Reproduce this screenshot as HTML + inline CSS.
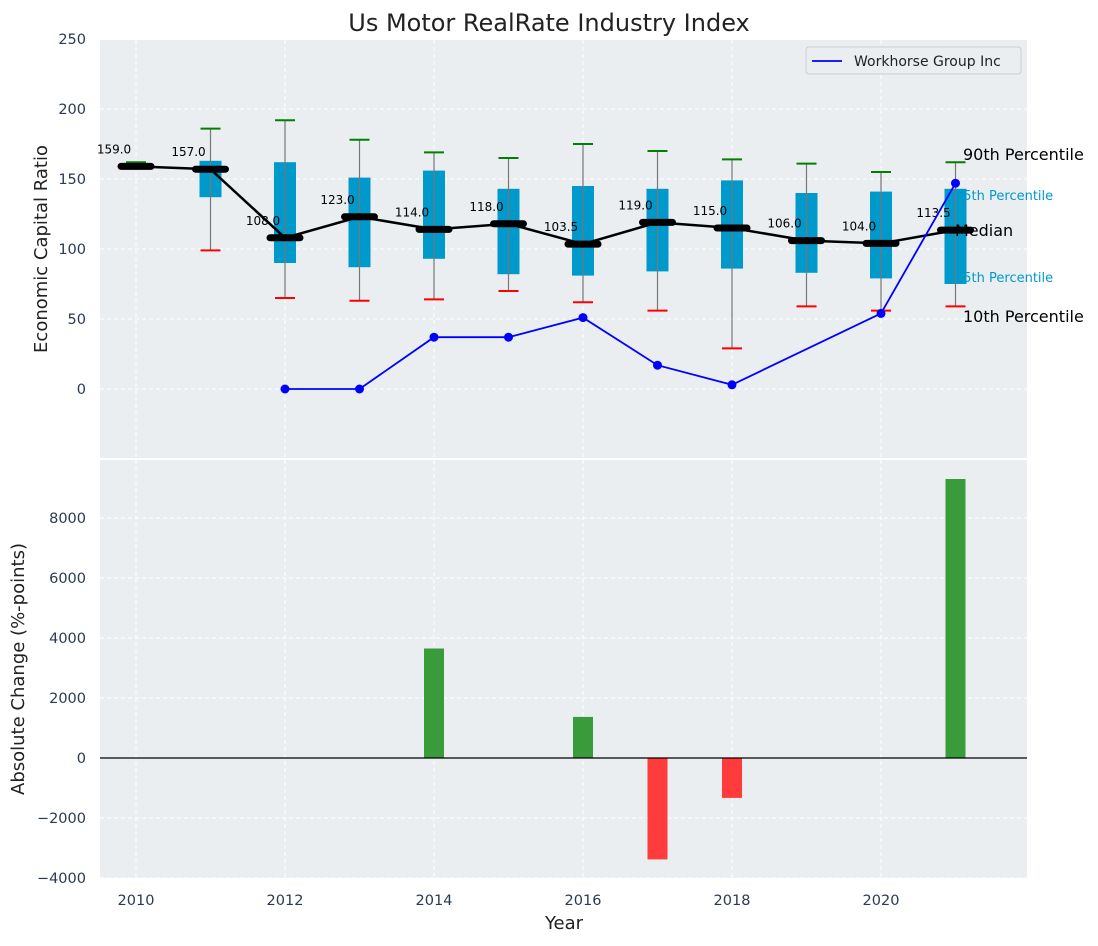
<!DOCTYPE html>
<html><head><meta charset="utf-8"><style>
body{margin:0;background:#fff;font-family:"DejaVu Sans","Liberation Sans",sans-serif}
</style></head><body>
<svg id="c" width="1098" height="942" xmlns="http://www.w3.org/2000/svg" font-family="DejaVu Sans, Liberation Sans, sans-serif"></svg>
<script>
const years=[2010,2011,2012,2013,2014,2015,2016,2017,2018,2019,2020,2021];
const p10=[159,99,65,63,64,70,62,56,29,59,56,59];
const p25=[159,137,90,87,93,82,81,84,86,83,79,75];
const medians=[159,157,108,123,114,118,103.5,119,115,106,104,113.5];
const p75=[159,163,162,151,156,143,145,143,149,140,141,143];
const p90=[162,186,192,178,169,165,175,170,164,161,155,162];
const wkYears=[2012,2013,2014,2015,2016,2017,2018,2020,2021];
const wkValues=[0,0,37,37,51,17,3,54,147];
const chYears=[2014,2016,2017,2018,2021];
const chValues=[3650,1370,-3380,-1330,9300];
const yTicksTop=[0,50,100,150,200,250];
const yTicksBot=[-4000,-2000,0,2000,4000,6000,8000];
const xTicks=[2010,2012,2014,2016,2018,2020];

const svg=document.getElementById('c');const NS='http://www.w3.org/2000/svg';
function el(t,a,txt){const e=document.createElementNS(NS,t);for(const k in a)e.setAttribute(k,a[k]);if(txt!==undefined)e.textContent=txt;svg.appendChild(e);return e;}
const L=100,R=1027;
const X=y=>136+(y-2010)*74.5;
const YT=v=>389-v*1.4;
const YB=v=>758-v*0.03;
let e=el('rect',{x:L,y:40,width:R-L,height:418,fill:'#eaeef0'});

e=el('rect',{x:L,y:460,width:R-L,height:418,fill:'#eaeef0'});

xTicks.forEach(t=>{el('line',{x1:X(t),x2:X(t),y1:40,y2:458,stroke:'#fff','stroke-dasharray':'4,3'});el('line',{x1:X(t),x2:X(t),y1:460,y2:878,stroke:'#fff','stroke-dasharray':'4,3'});
e=el('text',{x:X(t),y:905,'text-anchor':'middle','font-size':14.5,fill:'#2a3b4f'},t);});
yTicksTop.forEach(t=>{el('line',{x1:L,x2:R,y1:YT(t),y2:YT(t),stroke:'#fff','stroke-dasharray':'4,3'});
e=el('text',{x:86,y:YT(t)+5,'text-anchor':'end','font-size':14.5,fill:'#2a3b4f'},t);});
yTicksBot.forEach(t=>{el('line',{x1:L,x2:R,y1:YB(t),y2:YB(t),stroke:'#fff','stroke-dasharray':'4,3'});
e=el('text',{x:86,y:YB(t)+5,'text-anchor':'end','font-size':14.5,fill:'#2a3b4f'},(t<0?'\u2212'+(-t):t));});
[['75th Percentile',200],['25th Percentile',282]].forEach(a=>{e=el('text',{x:955,y:a[1],'font-size':13,fill:'#0099cc'},a[0]);});
years.forEach((y,i)=>{const x=X(y);
 if(p75[i]>p25[i]){e=el('rect',{x:x-11,y:YT(p75[i]),width:22,height:YT(p25[i])-YT(p75[i]),fill:'#0099cc'});}
 el('line',{x1:x,x2:x,y1:YT(p90[i]),y2:YT(p10[i]),stroke:'#777','stroke-width':1.2});
 e=el('line',{x1:x-10,x2:x+10,y1:YT(p90[i]),y2:YT(p90[i]),stroke:'green','stroke-width':2});
 e=el('line',{x1:x-10,x2:x+10,y1:YT(p10[i]),y2:YT(p10[i]),stroke:'red','stroke-width':2});
});
e=el('polyline',{points:years.map((y,i)=>X(y)+','+YT(medians[i])).join(' '),fill:'none',stroke:'#000','stroke-width':2.5});
years.forEach((y,i)=>{const x=X(y);
 e=el('line',{x1:x-15,x2:x+15,y1:YT(medians[i]),y2:YT(medians[i]),stroke:'#000','stroke-width':7,'stroke-linecap':'round'});
 e=el('text',{x:x-22,y:YT(medians[i])-13,'text-anchor':'middle','font-size':12,fill:'#000'},medians[i].toFixed(1));
});
e=el('polyline',{points:wkYears.map((y,i)=>X(y)+','+YT(wkValues[i])).join(' '),fill:'none',stroke:'blue','stroke-width':1.8});
wkYears.forEach((y,i)=>{e=el('circle',{cx:X(y),cy:YT(wkValues[i]),r:4.5,fill:'blue'});});
[['90th Percentile',155,963],['Median',231,955],['10th Percentile',317,963]].forEach(a=>{e=el('text',{x:a[2],y:a[1]+5,'font-size':16,fill:'#000'},a[0]);});
e=el('rect',{x:806,y:47,width:215,height:27,fill:'#eaeef0',stroke:'#ccc',rx:3});
el('line',{x1:812,x2:842,y1:61,y2:61,stroke:'blue','stroke-width':1.8});
e=el('text',{x:854,y:66,'font-size':14,fill:'#222'},'Workhorse Group Inc');
chYears.forEach((y,i)=>{const v=chValues[i];const y0=YB(Math.max(v,0)),y1=YB(Math.min(v,0));
 e=el('rect',{x:X(y)-10,y:y0,width:20,height:y1-y0,fill:v>=0?'#3a9b3a':'#ff3b3b'});});
el('line',{x1:L,x2:R,y1:YB(0),y2:YB(0),stroke:'#000','stroke-width':1.2});
e=el('text',{x:549,y:31,'text-anchor':'middle','font-size':24,fill:'#222'},'Us Motor RealRate Industry Index');
e=el('text',{x:0,y:0,'text-anchor':'middle','font-size':18,fill:'#222',transform:'translate(47,249) rotate(-90)'},'Economic Capital Ratio');
e=el('text',{x:0,y:0,'text-anchor':'middle','font-size':18,fill:'#222',transform:'translate(24,669) rotate(-90)'},'Absolute Change (%-points)');
e=el('text',{x:564,y:929,'text-anchor':'middle','font-size':18,fill:'#222'},'Year');
</script>
</body></html>
